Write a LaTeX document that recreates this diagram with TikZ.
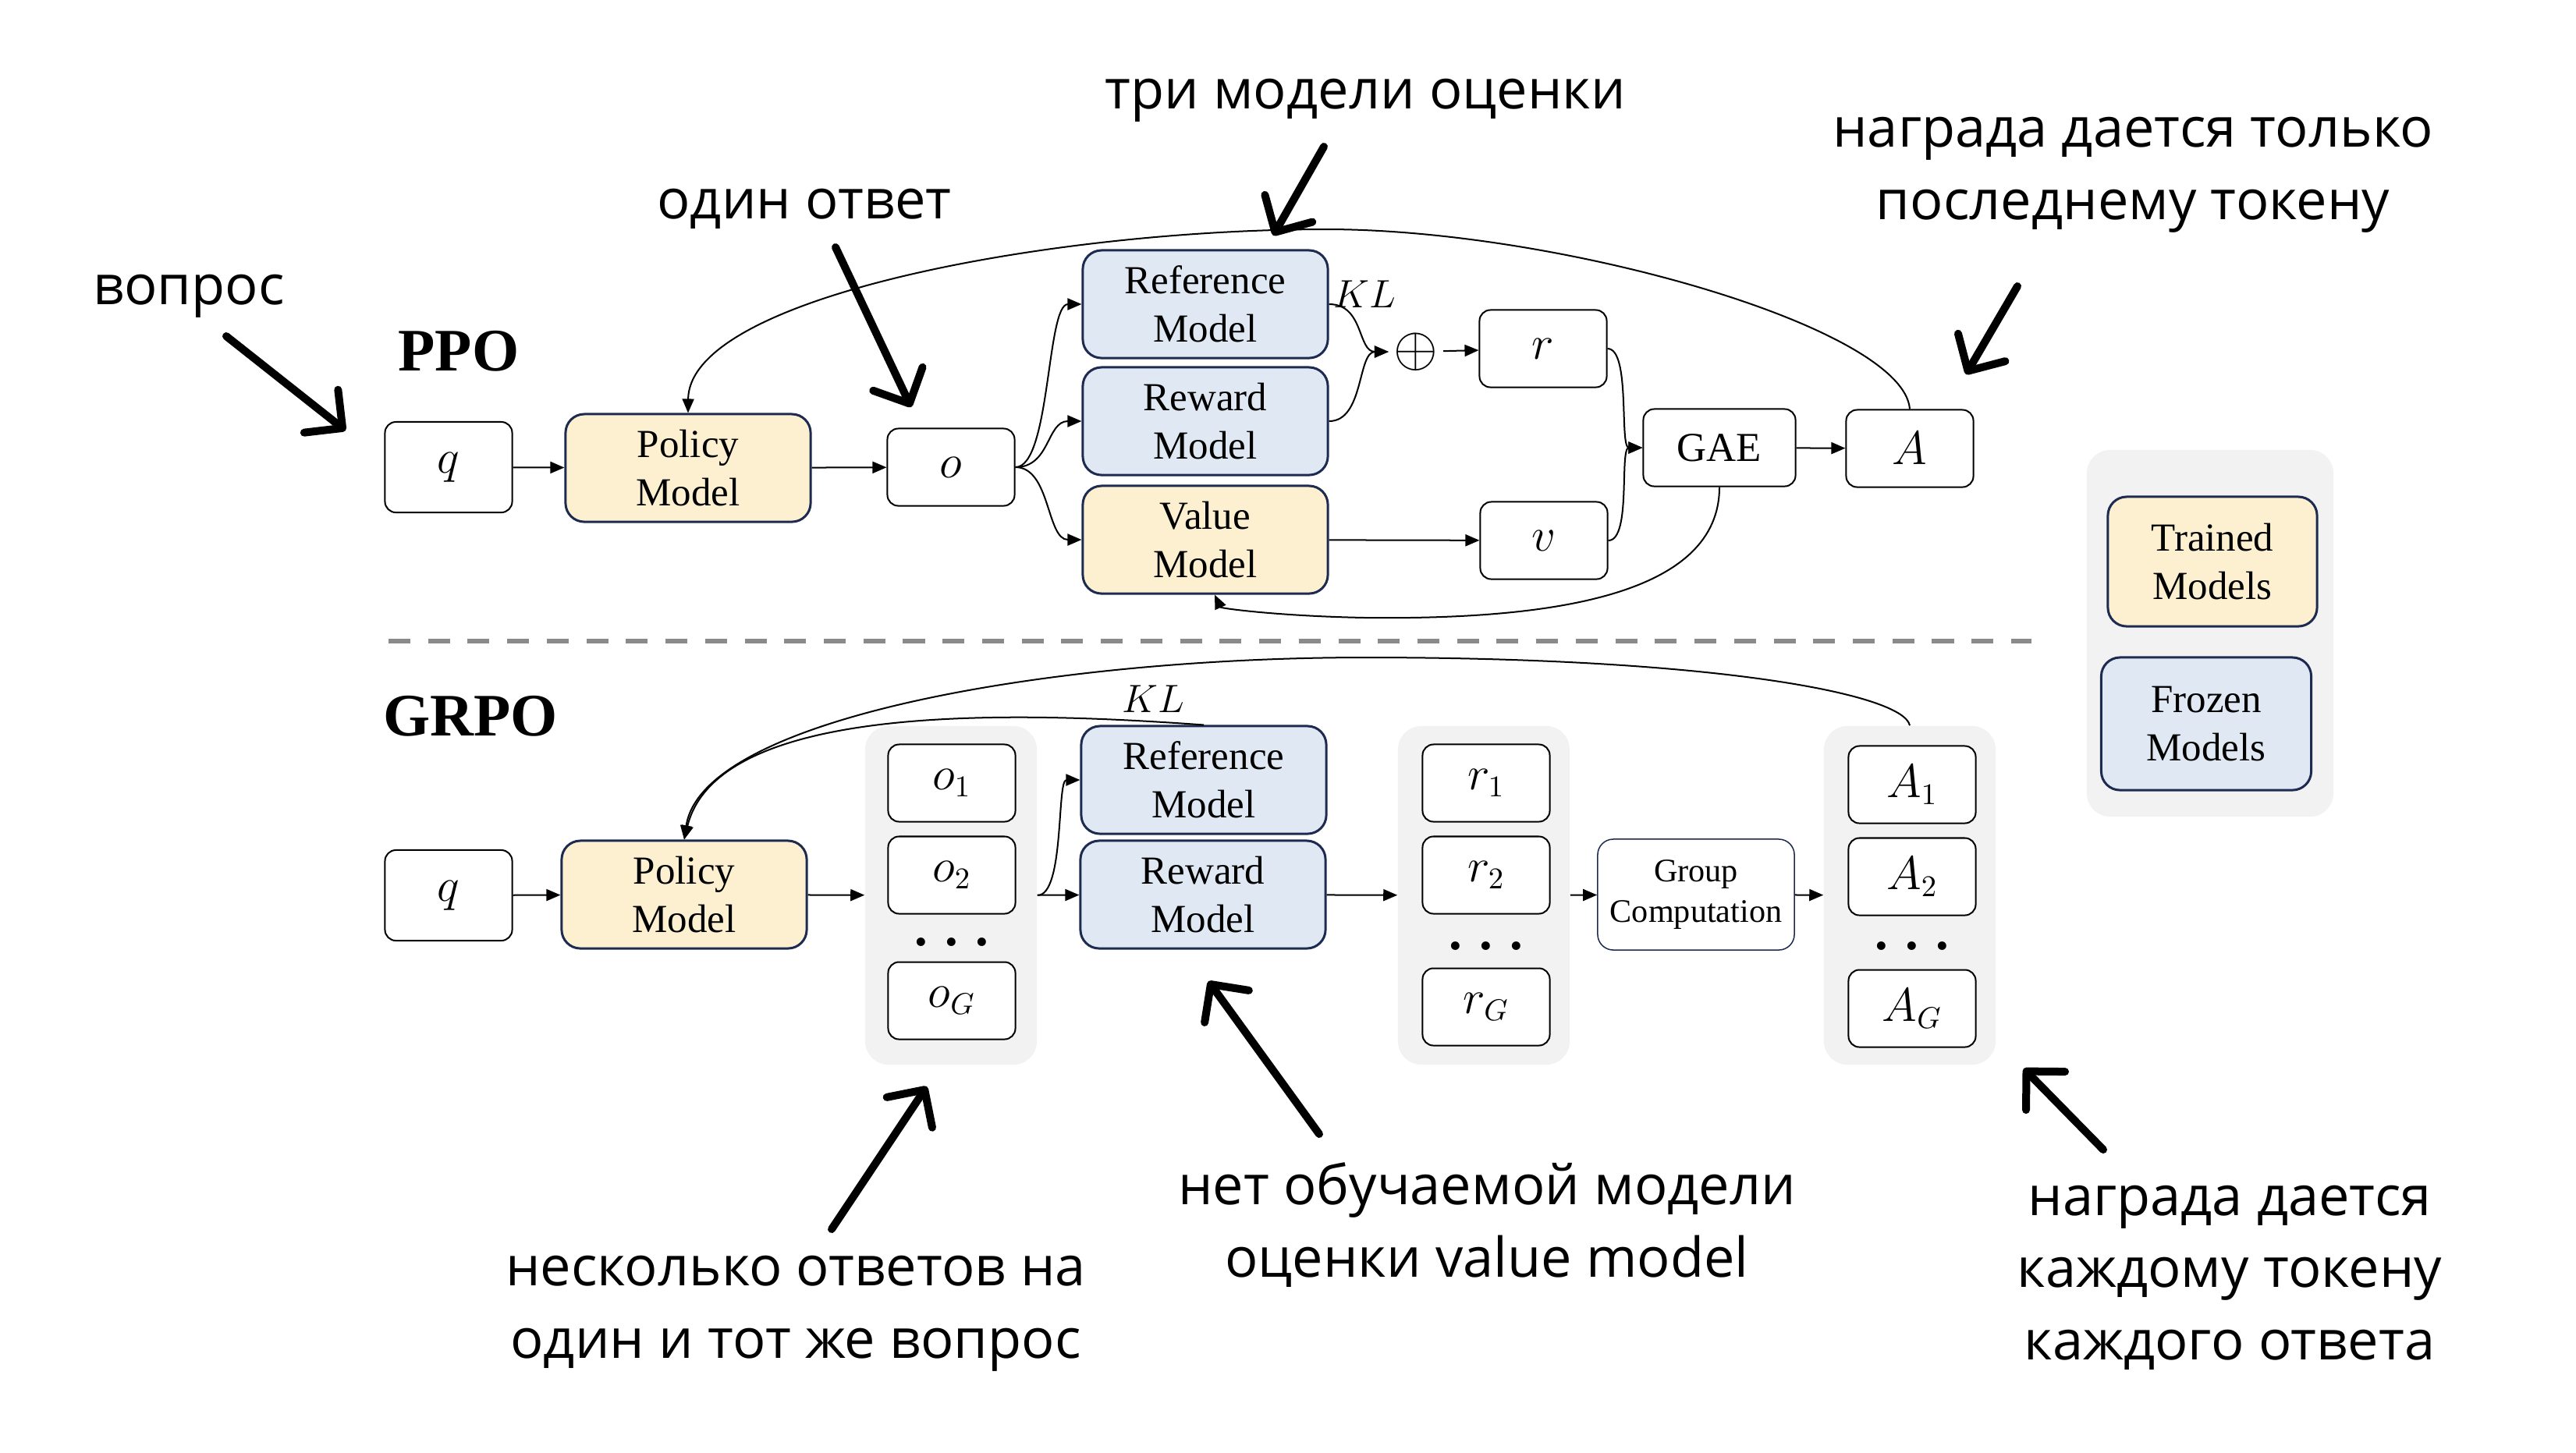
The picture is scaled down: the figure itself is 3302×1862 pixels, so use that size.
\documentclass[tikz,border=0pt]{standalone}
\usepackage{fontspec}
\setmainfont{Liberation Serif}
\newfontfamily\notefont{Open Sans}
\usepackage{tikz}
\usetikzlibrary{arrows.meta}
\definecolor{navy}{HTML}{1C2B4F}
\definecolor{trainedfill}{HTML}{FCF0D1}
\definecolor{frozenfill}{HTML}{DFE8F3}
\definecolor{grpgray}{HTML}{F2F2F2}
\definecolor{dashgray}{HTML}{8A8A8A}

\begin{document}
\begin{tikzpicture} [x=0.01cm, y=-0.01cm,
  model/.style={rounded corners=0.24cm, draw=navy, line width=0.03cm, minimum width=3.14cm, minimum height=1.38cm, inner sep=0pt, align=center, font=\fontsize{14.5}{17.5}\selectfont},
  trained/.style={model, fill=trainedfill},
  frozen/.style={model, fill=frozenfill},
  tok/.style={rounded corners=0.14cm, draw=black, line width=0.02cm, fill=white, minimum width=1.63cm, minimum height=0.99cm, inner sep=0pt, font=\fontsize{16}{19}\selectfont},
  grp/.style={rounded corners=0.3cm, fill=grpgray, minimum width=2.2cm, minimum height=4.34cm, inner sep=0pt},
  ellip/.style={font=\fontsize{19}{19}\selectfont\bfseries, inner sep=0pt},
  kl/.style={font=\fontsize{15}{15}\selectfont, inner sep=0pt},
  conn/.style={-{Triangle[length=0.18cm,width=0.15cm]}, line width=0.02cm},
  algname/.style={font=\fontsize{22}{22}\selectfont\bfseries, anchor=base},
  note/.style={font=\notefont\fontsize{20}{26.2}\selectfont, align=center, anchor=base},
  pointer/.style={-{Straight Barb[length=0.35cm,width=0.7cm,round]}, line width=0.1cm, line cap=round}]

\useasboundingbox (0,0) rectangle (3302,1862);

\node[algname] (ppo) at (588,475) {PPO};
\node[tok, minimum height=1.16cm] (qp) at (575,599) {$q$};
\node[trained] (polp) at (882,600) {Policy\\Model};
\node[tok] (op) at (1219,599) {$o$};
\node[frozen] (refp) at (1545,390) {Reference\\Model};
\node[frozen] (rewp) at (1545,540) {Reward\\Model};
\node[trained] (valp) at (1545,692) {Value\\Model};
\node[kl] (klp) at (1749,377) {$KL$};
\node[inner sep=0.06cm, font=\fontsize{20}{20}\selectfont] (plus) at (1815,451) {$\oplus$};
\node[tok] (rp) at (1978,447) {$r$};
\node[tok] (vp) at (1979,693) {$v$};
\node[tok, minimum width=1.95cm, font=\fontsize{15}{18}\selectfont] (gae) at (2204,574) {GAE};
\node[tok] (ap) at (2448,575) {$A$};

\draw[conn] (qp) -- (polp);
\draw[conn] (polp) -- (op);
\draw[conn] (op.east) .. controls +(45,0) and +(-45,0) .. (refp.west);
\draw[conn] (op.east) .. controls +(45,0) and +(-45,0) .. (rewp.west);
\draw[conn] (op.east) .. controls +(45,0) and +(-45,0) .. (valp.west);
\draw[conn] (refp.east) .. controls +(45,0) and +(-40,0) .. (plus.west);
\draw[conn] (rewp.east) .. controls +(45,0) and +(-40,0) .. (plus.west);
\draw[conn] (plus) -- (rp);
\draw[conn] (valp) -- (vp);
\draw[conn] (rp.east) .. controls +(30,0) and +(-30,0) .. (gae.west);
\draw[conn] (vp.east) .. controls +(30,0) and +(-30,0) .. (gae.west);
\draw[conn] (gae) -- (ap);
\draw[conn] (ap.north) .. controls (2440,420) and (2000,294) .. (1700,294) .. controls (1350,294) and (883,380) .. (polp.north);
\draw[conn] (gae.south) .. controls (2204,760) and (2000,795) .. (1750,792) .. controls (1640,790) and (1565,780) .. ([xshift=0.12cm]valp.south);

\node[grp, minimum width=3.16cm, minimum height=4.7cm] (legend) at (2833,812) {};
\node[trained, minimum width=2.68cm, minimum height=1.66cm] (trn) at (2836,720) {Trained\\Models};
\node[frozen, minimum width=2.69cm, minimum height=1.7cm] (frz) at (2828,928) {Frozen\\Models};

\coordinate (sepl) at (498,822);
\coordinate (sepr) at (2604,822);
\draw[dashgray, line width=0.06cm, dash pattern=on 0.28cm off 0.227cm] (sepl) -- (sepr);

\node[algname] (grpo) at (603,943) {GRPO};
\node[tok, minimum height=1.16cm] (qg) at (575,1148) {$q$};
\node[trained] (polg) at (877,1147) {Policy\\Model};
\node[grp] (ogrp) at (1219,1148) {};
\node[tok] (o1) at (1220,1004) {$o_1$};
\node[tok] (o2) at (1220,1122) {$o_2$};
\node[ellip] (odots) at (1220,1208) {. . .};
\node[tok] (oG) at (1220,1283) {$o_G$};
\node[frozen] (refg) at (1543,1000) {Reference\\Model};
\node[frozen] (rewg) at (1542,1147) {Reward\\Model};
\node[kl] (klg) at (1478,896) {$KL$};
\node[grp] (rgrp) at (1902,1148) {};
\node[tok] (r1) at (1905,1004) {$r_1$};
\node[tok] (r2) at (1905,1122) {$r_2$};
\node[ellip] (rdots) at (1905,1213) {. . .};
\node[tok] (rG) at (1905,1291) {$r_G$};
\node[rounded corners=0.2cm, draw=navy, line width=0.015cm, fill=white, minimum width=2.52cm, minimum height=1.42cm, inner sep=0pt, align=center, font=\fontsize{12}{15}\selectfont] (gc) at (2174,1147) {Group\\Computation};
\node[grp] (agrp) at (2448,1148) {};
\node[tok] (a1) at (2451,1006) {$A_1$};
\node[tok] (a2) at (2451,1124) {$A_2$};
\node[ellip] (adots) at (2451,1213) {. . .};
\node[tok] (aG) at (2451,1293) {$A_G$};

\draw[conn] (qg) -- (polg);
\draw[conn] (polg) -- (ogrp);
\draw[conn] (ogrp) -- (rewg);
\draw[conn] (ogrp.east) .. controls +(35,0) and +(-30,0) .. (refg.west);
\draw[conn] (rewg) -- (rgrp);
\draw[conn] (rgrp) -- (gc);
\draw[conn] (gc) -- (agrp);
\draw[conn] (agrp.north) .. controls (2440,890) and (2200,843) .. (1750,843) .. controls (1350,843) and (900,920) .. (polg.north);
\draw[conn] (refg.north) .. controls (1300,912) and (920,900) .. (polg.north);

\node[note] (nq) at (242,390) {вопрос};
\coordinate (nqtail) at (290,431);
\coordinate (nqtip) at (443,552);
\draw[pointer] (nqtail) -- (nqtip);

\node[note] (no) at (1031,280) {один ответ};
\coordinate (notail) at (1071,317);
\coordinate (notip) at (1168,522);
\draw[pointer] (notail) -- (notip);

\node[note] (nm) at (1750,139) {три модели оценки};
\coordinate (nmtail) at (1697,188);
\coordinate (nmtip) at (1632,302);
\draw[pointer] (nmtail) -- (nmtip);

\node[note] (nlast) at (2734,281) {награда дается только\\последнему токену};
\coordinate (nlasttail) at (2586,367);
\coordinate (nlasttip) at (2520,480);
\draw[pointer] (nlasttail) -- (nlasttip);

\node[note] (nmany) at (1020,1741) {несколько ответов на\\один и тот же вопрос};
\coordinate (nmanytail) at (1066,1576);
\coordinate (nmanytip) at (1188,1393);
\draw[pointer] (nmanytail) -- (nmanytip);

\node[note] (nval) at (1906,1637) {нет обучаемой модели\\оценки value model};
\coordinate (nvaltail) at (1691,1454);
\coordinate (nvaltip) at (1549,1258);
\draw[pointer] (nvaltail) -- (nvaltip);

\node[note] (nall) at (2858,1743) {награда дается\\каждому токену\\каждого ответа};
\coordinate (nalltail) at (2696,1474);
\coordinate (nalltip) at (2594,1370);
\draw[pointer] (nalltail) -- (nalltip);

\end{tikzpicture}
\end{document}
